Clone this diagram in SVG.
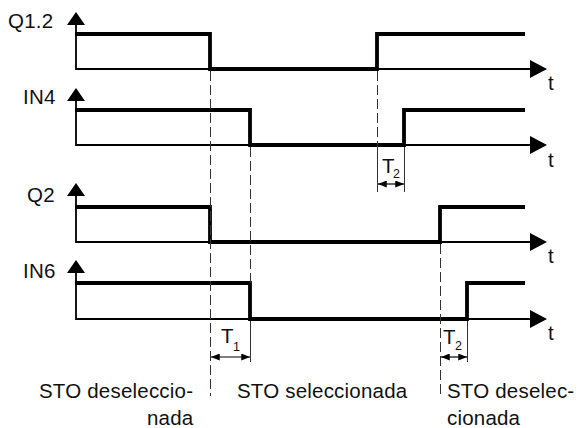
<svg xmlns="http://www.w3.org/2000/svg" width="581" height="428" viewBox="0 0 581 428">
<style>
.ax{fill:none;stroke:#000;stroke-width:1.8}
.sig{fill:none;stroke:#000;stroke-width:3.8;stroke-linejoin:miter;stroke-linecap:butt}
.dash{fill:none;stroke:#333;stroke-width:1;stroke-dasharray:10 4}
.ext{fill:none;stroke:#333;stroke-width:1}
.dim{fill:none;stroke:#000;stroke-width:1.2}
.ah{fill:#000}
text{font-family:"Liberation Sans",Arial,sans-serif;fill:#111}
.lbl{font-size:20.5px;letter-spacing:0.2px}
.tt{font-size:20.5px}
.sub{font-size:12.5px}
</style>
<defs>
<marker id="da" viewBox="0 0 10 8" refX="10" refY="4" markerWidth="9" markerHeight="7" markerUnits="userSpaceOnUse" orient="auto-start-reverse"><path d="M0,0L10,4L0,8z" fill="#000"/></marker>
</defs>
<rect width="581" height="428" fill="#fff"/>
<g id="axes">
<path class="ax" d="M76,24V69H531M76,99V145H531M76,194V242H531M76,271V319H531"/>
<path class="ah" d="M76,12L67,25H85Z M76,88L67,101H85Z M76,183L67,196H85Z M76,260L67,273H85Z"/>
<path class="ah" d="M547,69L530,60V78Z M547,145L530,136V154Z M547,242L530,233V251Z M547,319L530,310V328Z"/>
</g>
<g id="signals">
<path class="sig" d="M75,34H210V69H377V34H525"/>
<path class="sig" d="M75,110H250V145H404V110H525"/>
<path class="sig" d="M75,207H210V242H440V207H525"/>
<path class="sig" d="M75,283H250V319H467V283H525"/>
</g>
<g id="connectors">
<path class="dash" d="M210.5,71V396"/>
<path class="dash" d="M250.5,147V283"/>
<path class="ext" d="M250.5,321V362"/>
<path class="dash" d="M377.5,71V145"/>
<path class="ext" d="M377.5,145V192M404.5,147V192"/>
<path class="dash" d="M440.5,244V394"/>
<path class="ext" d="M467.5,321V362"/>
<path class="dim" d="M211,357H250" marker-start="url(#da)" marker-end="url(#da)"/>
<path class="dim" d="M378,184H404" marker-start="url(#da)" marker-end="url(#da)"/>
<path class="dim" d="M441,357H467" marker-start="url(#da)" marker-end="url(#da)"/>
</g>
<g id="labels">
<text class="lbl" x="8" y="28">Q1.2</text>
<text class="lbl" x="23" y="104">IN4</text>
<text class="lbl" x="27" y="202">Q2</text>
<text class="lbl" x="23" y="278">IN6</text>
<text class="lbl" x="548" y="90">t</text>
<text class="lbl" x="548" y="167">t</text>
<text class="lbl" x="548" y="263">t</text>
<text class="lbl" x="548" y="340">t</text>
<text class="tt" x="221" y="343">T</text><text class="sub" x="233" y="351">1</text>
<text class="tt" x="382" y="173">T</text><text class="sub" x="393" y="178">2</text>
<text class="tt" x="443" y="344">T</text><text class="sub" x="455" y="350">2</text>
<text class="lbl" x="39" y="398">STO deseleccio-</text>
<text class="lbl" x="147" y="425">nada</text>
<text class="lbl" x="237" y="398">STO seleccionada</text>
<text class="lbl" x="447" y="398">STO deselec-</text>
<text class="lbl" x="447" y="425">cionada</text>
</g>
</svg>
